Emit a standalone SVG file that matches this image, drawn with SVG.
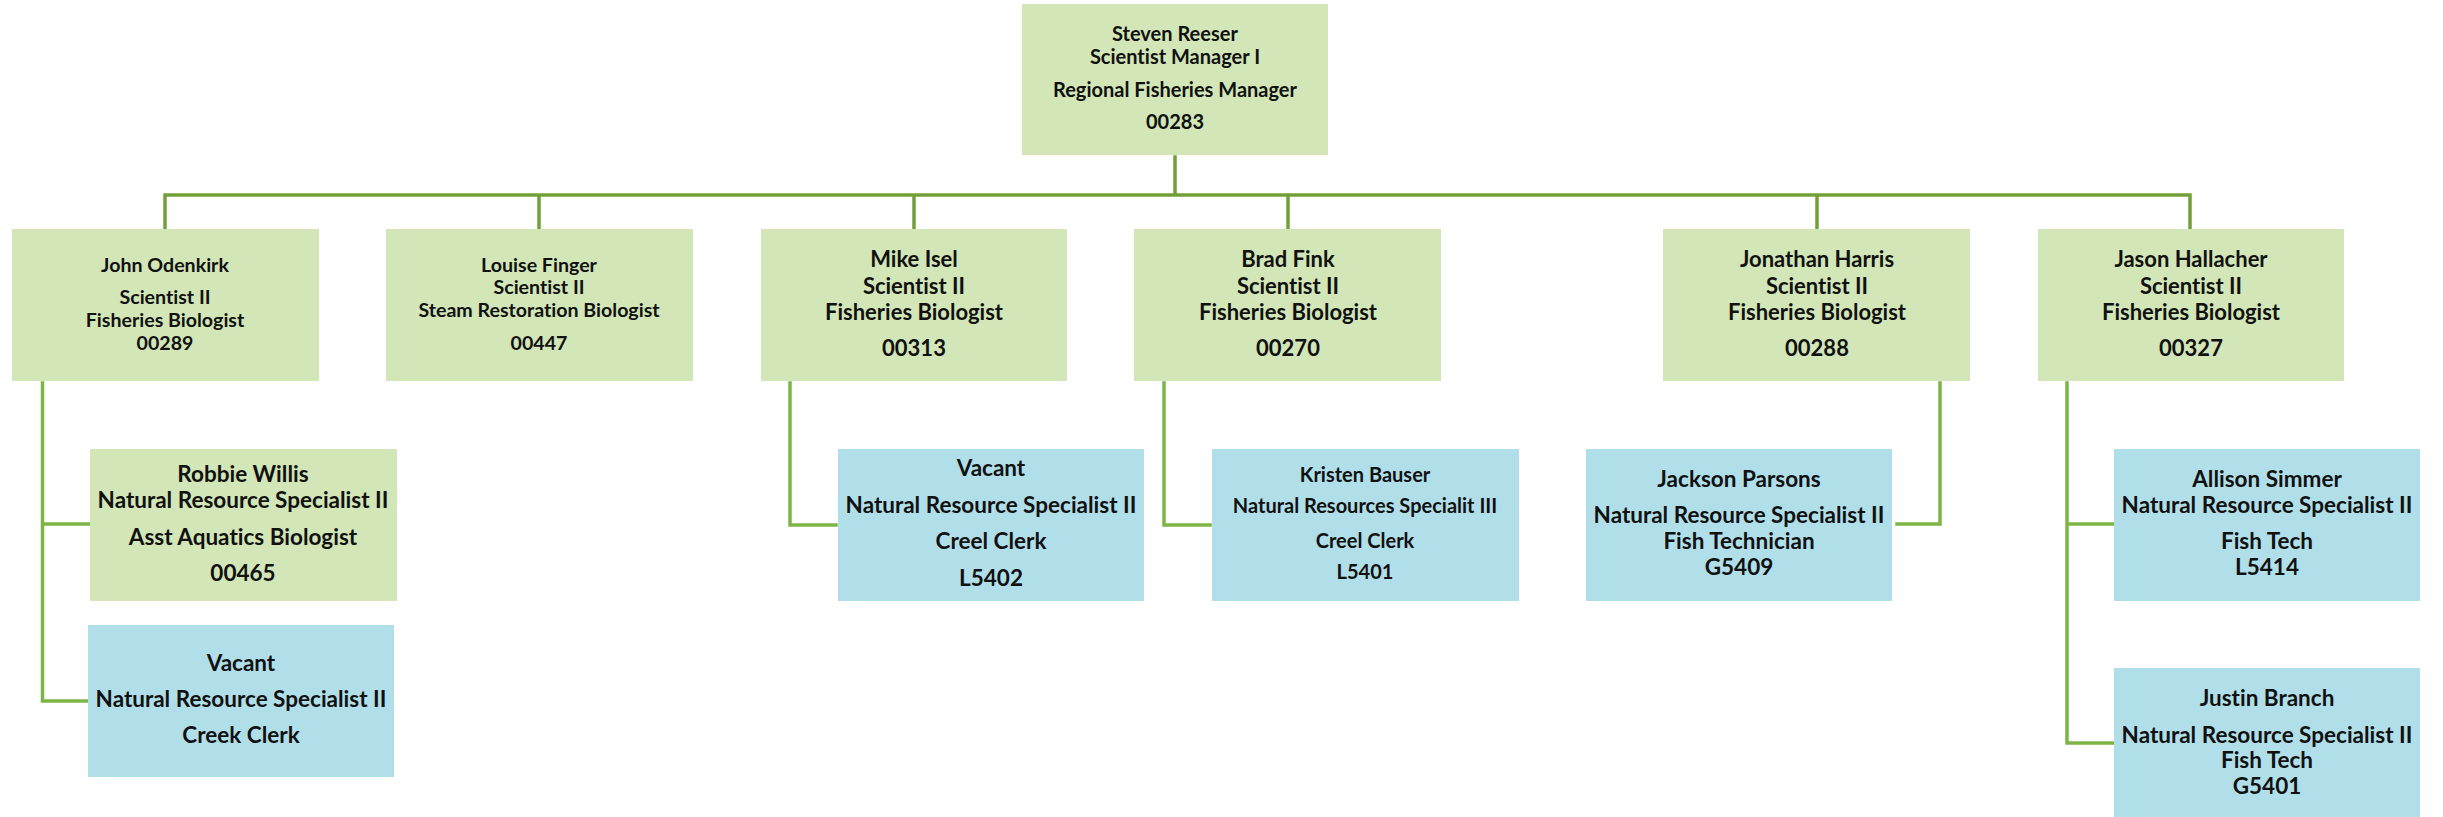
<svg xmlns="http://www.w3.org/2000/svg" width="2443" height="817" viewBox="0 0 2443 817">
<style>
.g{fill:#D2E6B7}
.b{fill:#B0DFEA}
text{font-family:Lato,"Liberation Sans",sans-serif;font-weight:bold;fill:#111;text-anchor:middle;font-variant-ligatures:none;font-feature-settings:"liga" 0,"clig" 0}
.s20{font-size:20px}
.s19{font-size:19.6px}
.s22{font-size:22px}
.s225{font-size:22.5px}
.k{fill:none;stroke-width:3.5;stroke-linecap:square}
.top{stroke:#71A038}
.sub{stroke:#7DB544}
</style>
<rect width="2443" height="817" fill="#fff"/>
<g id="connectors">
<path class="k top" d="M1175 157V195M165 195H2190M165 195V228M539 195V228M914 195V228M1288 195V228M1817 195V228M2190 195V228"/>
<path class="k sub" d="M42.5 383V701H87M42.5 524H89"/>
<path class="k sub" d="M790 383V525H836"/>
<path class="k sub" d="M1164 383V525H1210"/>
<path class="k sub" d="M1940 383V524H1897"/>
<path class="k sub" d="M2067 383V743H2113M2067 524H2113"/>
</g>
<g id="steven">
<rect class="g" x="1022" y="4" width="306" height="151"/>
<text class="s20" x="1175" y="41">Steven Reeser</text>
<text class="s20" x="1175" y="64">Scientist Manager I</text>
<text class="s20" x="1175" y="97">Regional Fisheries Manager</text>
<text class="s20" x="1175" y="129">00283</text>
</g>
<g id="john">
<rect class="g" x="12" y="229" width="307" height="152"/>
<text class="s19" x="165" y="272">John Odenkirk</text>
<text class="s19" x="165" y="304">Scientist II</text>
<text class="s19" x="165" y="327">Fisheries Biologist</text>
<text class="s19" x="165" y="350">00289</text>
</g>
<g id="louise">
<rect class="g" x="386" y="229" width="307" height="152"/>
<text class="s19" x="539" y="272">Louise Finger</text>
<text class="s19" x="539" y="294">Scientist II</text>
<text class="s19" x="539" y="317">Steam Restoration Biologist</text>
<text class="s19" x="539" y="350">00447</text>
</g>
<g id="mike">
<rect class="g" x="761" y="229" width="306" height="152"/>
<text class="s22" x="914" y="267">Mike Isel</text>
<text class="s22" x="914" y="294">Scientist II</text>
<text class="s22" x="914" y="320">Fisheries Biologist</text>
<text class="s22" x="914" y="356">00313</text>
</g>
<g id="brad">
<rect class="g" x="1134" y="229" width="307" height="152"/>
<text class="s22" x="1288" y="267">Brad Fink</text>
<text class="s22" x="1288" y="294">Scientist II</text>
<text class="s22" x="1288" y="320">Fisheries Biologist</text>
<text class="s22" x="1288" y="356">00270</text>
</g>
<g id="jonathan">
<rect class="g" x="1663" y="229" width="307" height="152"/>
<text class="s22" x="1817" y="267">Jonathan Harris</text>
<text class="s22" x="1817" y="294">Scientist II</text>
<text class="s22" x="1817" y="320">Fisheries Biologist</text>
<text class="s22" x="1817" y="356">00288</text>
</g>
<g id="jason">
<rect class="g" x="2038" y="229" width="306" height="152"/>
<text class="s22" x="2191" y="267">Jason Hallacher</text>
<text class="s22" x="2191" y="294">Scientist II</text>
<text class="s22" x="2191" y="320">Fisheries Biologist</text>
<text class="s22" x="2191" y="356">00327</text>
</g>
<g id="robbie">
<rect class="g" x="90" y="449" width="307" height="152"/>
<text class="s225" x="243" y="482">Robbie Willis</text>
<text class="s225" x="243" y="508">Natural Resource Specialist II</text>
<text class="s225" x="243" y="545">Asst Aquatics Biologist</text>
<text class="s225" x="243" y="581">00465</text>
</g>
<g id="vacant-creek">
<rect class="b" x="88" y="625" width="306" height="152"/>
<text class="s225" x="241" y="671">Vacant</text>
<text class="s225" x="241" y="707">Natural Resource Specialist II</text>
<text class="s225" x="241" y="743">Creek Clerk</text>
</g>
<g id="vacant-creel">
<rect class="b" x="838" y="449" width="306" height="152"/>
<text class="s225" x="991" y="476">Vacant</text>
<text class="s225" x="991" y="513">Natural Resource Specialist II</text>
<text class="s225" x="991" y="549">Creel Clerk</text>
<text class="s225" x="991" y="586">L5402</text>
</g>
<g id="kristen">
<rect class="b" x="1212" y="449" width="307" height="152"/>
<text class="s20" x="1365" y="482">Kristen Bauser</text>
<text class="s20" x="1365" y="513">Natural Resources Specialit III</text>
<text class="s20" x="1365" y="548">Creel Clerk</text>
<text class="s20" x="1365" y="579">L5401</text>
</g>
<g id="jackson">
<rect class="b" x="1586" y="449" width="306" height="152"/>
<text class="s225" x="1739" y="487">Jackson Parsons</text>
<text class="s225" x="1739" y="523">Natural Resource Specialist II</text>
<text class="s225" x="1739" y="549">Fish Technician</text>
<text class="s225" x="1739" y="575">G5409</text>
</g>
<g id="allison">
<rect class="b" x="2114" y="449" width="306" height="152"/>
<text class="s225" x="2267" y="487">Allison Simmer</text>
<text class="s225" x="2267" y="513">Natural Resource Specialist II</text>
<text class="s225" x="2267" y="549">Fish Tech</text>
<text class="s225" x="2267" y="575">L5414</text>
</g>
<g id="justin">
<rect class="b" x="2114" y="668" width="306" height="149"/>
<text class="s225" x="2267" y="706">Justin Branch</text>
<text class="s225" x="2267" y="743">Natural Resource Specialist II</text>
<text class="s225" x="2267" y="768">Fish Tech</text>
<text class="s225" x="2267" y="794">G5401</text>
</g>
</svg>
